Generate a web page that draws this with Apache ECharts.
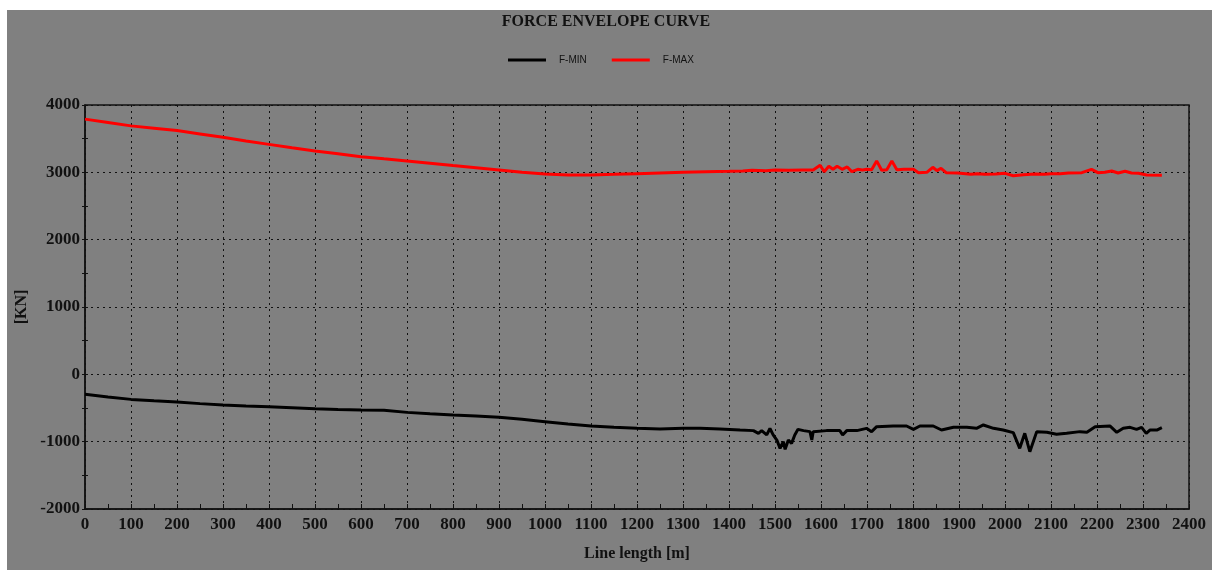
<!DOCTYPE html>
<html><head><meta charset="utf-8">
<script src="https://cdn.jsdelivr.net/npm/echarts@6/dist/echarts.min.js"></script>
<style>html,body{margin:0;padding:0;background:#fff;}#c{width:1212px;height:570px;}</style>
</head><body><div id="c"></div>
<script>
const titleText = 'FORCE ENVELOPE CURVE';
const seriesNames = ['F-MIN', 'F-MAX'];
const xName = 'Line length [m]';
const yName = '[KN]';
const xTicks = {min: 0, max: 2400, interval: 100};
const yTicks = {min: -2000, max: 4000, interval: 1000};

const fMin = [[0,-297],[50,-335],[100,-372],[150,-392],[200,-411],[250,-435],[300,-456],[350,-470],[400,-481],[450,-495],[500,-510],[550,-522],[600,-530],[650,-532],[700,-565],[750,-585],[800,-604],[850,-620],[900,-639],[950,-668],[1000,-703],[1050,-738],[1100,-768],[1150,-787],[1200,-802],[1250,-812],[1300,-802],[1337,-802],[1380,-811],[1424,-827],[1453,-836],[1464,-876],[1471,-836],[1482,-900],[1489,-805],[1496,-900],[1504,-976],[1511,-1099],[1518,-1000],[1522,-1114],[1529,-976],[1536,-1025],[1543,-900],[1550,-817],[1562,-836],[1576,-851],[1580,-976],[1583,-851],[1612,-836],[1641,-836],[1647,-900],[1656,-836],[1678,-836],[1699,-802],[1710,-851],[1721,-777],[1757,-767],[1786,-767],[1801,-817],[1815,-767],[1844,-767],[1862,-827],[1888,-787],[1917,-787],[1938,-802],[1953,-752],[1975,-802],[1996,-827],[2018,-866],[2032,-1099],[2043,-876],[2054,-1149],[2069,-851],[2091,-861],[2112,-891],[2134,-876],[2163,-851],[2178,-861],[2196,-777],[2228,-767],[2243,-861],[2257,-802],[2272,-787],[2286,-817],[2297,-787],[2307,-876],[2315,-827],[2330,-827],[2341,-792]];

const fMax = [[0,3790],[50,3740],[100,3690],[150,3655],[200,3620],[250,3570],[300,3520],[350,3465],[400,3415],[450,3365],[500,3317],[550,3275],[600,3233],[650,3200],[700,3170],[750,3135],[800,3100],[850,3068],[900,3035],[950,3000],[1000,2975],[1050,2962],[1100,2962],[1150,2970],[1200,2980],[1250,2990],[1300,3000],[1350,3010],[1400,3015],[1430,3020],[1450,3030],[1480,3025],[1500,3035],[1530,3030],[1560,3035],[1583,3035],[1598,3105],[1607,3010],[1617,3090],[1626,3045],[1635,3090],[1646,3045],[1657,3080],[1667,3010],[1680,3045],[1690,3035],[1700,3045],[1710,3040],[1721,3170],[1732,3030],[1743,3040],[1754,3170],[1765,3040],[1780,3045],[1801,3045],[1812,2995],[1830,3000],[1843,3075],[1852,3025],[1861,3060],[1872,2995],[1897,2990],[1926,2970],[1940,2980],[1956,2970],[1980,2975],[2000,2985],[2018,2950],[2040,2965],[2065,2975],[2085,2970],[2101,2978],[2120,2980],[2138,2990],[2167,2995],[2188,3045],[2202,2995],[2217,3000],[2232,3020],[2246,2990],[2261,3015],[2275,2990],[2290,2985],[2308,2960],[2341,2955]];

const serif = '"Liberation Serif", "DejaVu Serif", serif';
const chart = echarts.init(document.getElementById('c'), null, {renderer: 'canvas'});
const dotted = {color: '#111', width: 1, type: [2, 4]};
const plain = v => String(v);
chart.setOption({
  backgroundColor: '#808080',
  animation: false,
  graphic: [
    {type: 'rect', left: 0, top: 0, shape: {width: 1212, height: 10}, style: {fill: '#fff'}, silent: true, z: 100},
    {type: 'rect', left: 0, top: 0, shape: {width: 7, height: 570}, style: {fill: '#fff'}, silent: true, z: 100}
  ],
  title: {
    text: titleText, left: 'center', top: 9,
    textStyle: {fontFamily: serif, fontWeight: 'bold', fontSize: 16, color: '#111'}
  },
  legend: {
    left: 508, top: 55, padding: 0, itemWidth: 38, itemHeight: 3, itemGap: 25, icon: 'rect',
    textStyle: {fontFamily: '"Liberation Sans", Arial, sans-serif', fontSize: 10, color: '#111', padding: [0, 0, 0, 8]},
    data: seriesNames
  },
  grid: {left: 85, right: 23, top: 105, bottom: 61, show: true, borderColor: '#111', borderWidth: 1.5, backgroundColor: 'transparent'},
  xAxis: {
    type: 'value', min: xTicks.min, max: xTicks.max, interval: xTicks.interval,
    name: xName, nameLocation: 'middle', nameGap: 37,
    nameTextStyle: {fontFamily: serif, fontWeight: 'bold', fontSize: 16, color: '#111'},
    axisLine: {show: true, onZero: false, lineStyle: {color: '#111', width: 1.5}},
    axisTick: {show: true, inside: true, length: 5, lineStyle: {color: '#111'}},
    minorTick: {show: true, splitNumber: 2, length: 5, lineStyle: {color: '#111'}},
    axisLabel: {fontFamily: serif, fontWeight: 'bold', fontSize: 17, color: '#111', margin: 7, formatter: plain},
    splitLine: {show: true, lineStyle: dotted}
  },
  yAxis: [{
    type: 'value', min: yTicks.min, max: yTicks.max, interval: yTicks.interval,
    name: yName, nameLocation: 'middle', nameGap: 51, nameRotate: 90,
    nameTextStyle: {fontFamily: serif, fontWeight: 'bold', fontSize: 16, color: '#111'},
    axisLine: {show: true, onZero: false, lineStyle: {color: '#111', width: 1.5}},
    axisTick: {show: true, inside: true, length: 3, lineStyle: {color: '#111'}},
    minorTick: {show: true, splitNumber: 2, length: 3, lineStyle: {color: '#111'}},
    axisLabel: {fontFamily: serif, fontWeight: 'bold', fontSize: 17, color: '#111', margin: 5, formatter: plain},
    splitLine: {show: true, lineStyle: dotted}
  }, {
    type: 'value', min: yTicks.min, max: yTicks.max, interval: yTicks.interval, position: 'left',
    axisLine: {show: false, onZero: false}, axisLabel: {show: false}, splitLine: {show: false},
    axisTick: {show: true, inside: false, length: 3, lineStyle: {color: '#111'}},
    minorTick: {show: true, splitNumber: 2, length: 3, lineStyle: {color: '#111'}}
  }],
  series: [
    {name: seriesNames[0], type: 'line', data: fMin, showSymbol: false, symbol: 'none', lineStyle: {color: '#000', width: 3}, itemStyle: {color: '#000'}},
    {name: seriesNames[1], type: 'line', data: fMax, showSymbol: false, symbol: 'none', lineStyle: {color: '#ff0000', width: 3}, itemStyle: {color: '#ff0000'}}
  ]
});
</script></body></html>
